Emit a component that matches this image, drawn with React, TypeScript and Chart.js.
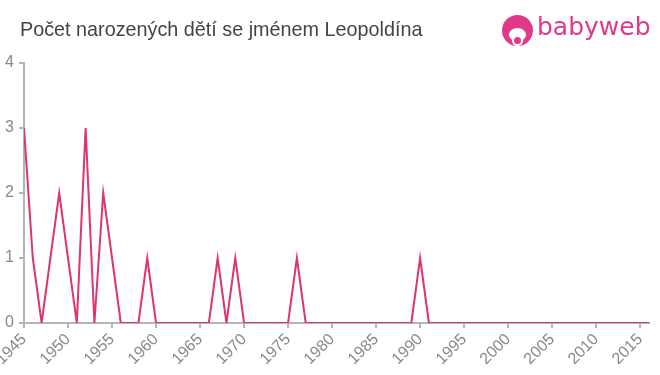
import React, { useEffect, useRef } from "react";
import { Chart, registerables } from "chart.js";

Chart.register(...registerables);

const TITLE = "Počet narozených dětí se jménem Leopoldína";
const years: number[] = [];
for (let y = 1945; y <= 2016; y++) years.push(y);

// births per year, 1945..2016
const counts: number[] = [
  3, 1, 0, 1, 2, 1, 0, 3, 0, 2, // 1945-1954
  1, 0, 0, 0, 1, 0, 0, 0, 0, 0, // 1955-1964
  0, 0, 1, 0, 1, 0, 0, 0, 0, 0, // 1965-1974
  0, 1, 0, 0, 0, 0, 0, 0, 0, 0, // 1975-1984
  0, 0, 0, 0, 0, 1, 0, 0, 0, 0, // 1985-1994
  0, 0, 0, 0, 0, 0, 0, 0, 0, 0, // 1995-2004
  0, 0, 0, 0, 0, 0, 0, 0, 0, 0, // 2005-2014
  0, 0, // 2015-2016
];
const yTicks = [0, 1, 2, 3, 4];

export default function App() {
  const ref = useRef<HTMLCanvasElement | null>(null);

  useEffect(() => {
    document.body.style.margin = "0";
    const ctx = ref.current!;
    const chart = new Chart(ctx, {
      type: "line",
      data: {
        datasets: [
          {
            data: years.map((y, i) => ({ x: y, y: counts[i] })),
            borderColor: "rgb(222, 54, 102)",
            borderWidth: 2,
            pointRadius: 0,
            tension: 0,
            fill: false,
          },
        ],
      },
      options: {
        animation: false,
        responsive: false,
        maintainAspectRatio: false,
        layout: { padding: { top: 63, right: 11, left: 0, bottom: 0 } },
        plugins: { legend: { display: false }, tooltip: { enabled: false }, title: { display: false } },
        scales: {
          x: {
            type: "linear",
            min: years[0],
            max: years[years.length - 1],
            afterFit: (s: any) => {
              s.height = 52;
              s.paddingLeft = 0;
              s.paddingRight = 0;
            },
            grid: { drawOnChartArea: false, drawTicks: true, tickLength: 5, color: "#b5b5b5", lineWidth: 2 },
            border: { color: "#b5b5b5", width: 2 },
            ticks: {
              stepSize: 5,
              includeBounds: false,
              autoSkip: false,
              maxRotation: 45,
              minRotation: 45,
              color: "#888",
              padding: 2,
              font: { family: "'Liberation Sans', Arial, sans-serif", size: 16 },
              callback: (v: any) => String(v),
            },
          },
          y: {
            min: yTicks[0],
            max: yTicks[yTicks.length - 1],
            afterFit: (s: any) => {
              s.width = 24;
            },
            grid: { drawOnChartArea: false, drawTicks: true, tickLength: 5, color: "#b5b5b5", lineWidth: 2 },
            border: { color: "#b5b5b5", width: 2 },
            ticks: {
              stepSize: 1,
              color: "#888",
              padding: 5,
              font: { family: "'Liberation Sans', Arial, sans-serif", size: 16 },
            },
          },
        },
      },
    });
    return () => chart.destroy();
  }, []);

  return (
    <div style={{ position: "relative", width: 660, height: 375, background: "#fff", overflow: "hidden" }}>
      <canvas ref={ref} width={660} height={375} style={{ position: "absolute", left: 0, top: 0 }} />
      <div
        style={{
          position: "absolute",
          left: 20,
          top: 18,
          fontFamily: "'Liberation Sans', Arial, sans-serif",
          fontSize: 19.8,
          color: "#444",
          whiteSpace: "nowrap",
        }}
      >
        {TITLE}
      </div>
      <div style={{ position: "absolute", left: 502, top: 15, width: 31, height: 31 }}>
        <div style={{ position: "absolute", left: 0, top: 0, width: 31, height: 31, borderRadius: "50%", background: "#e2388a" }} />
        <div style={{ position: "absolute", left: 7, top: 13, width: 17, height: 13, borderRadius: "50% 50% 45% 45%", background: "#fff" }} />
        <div style={{ position: "absolute", left: 10, top: 20, width: 11, height: 11, borderRadius: "50%", background: "#e2388a", border: "2px solid #fff", boxSizing: "border-box" }} />
      </div>
      <div
        style={{
          position: "absolute",
          left: 537,
          top: 12,
          fontFamily: "'DejaVu Sans', sans-serif",
          fontSize: 25,
          color: "#e2388a",
          whiteSpace: "nowrap",
          letterSpacing: 0,
        }}
      >
        babyweb
      </div>
    </div>
  );
}
